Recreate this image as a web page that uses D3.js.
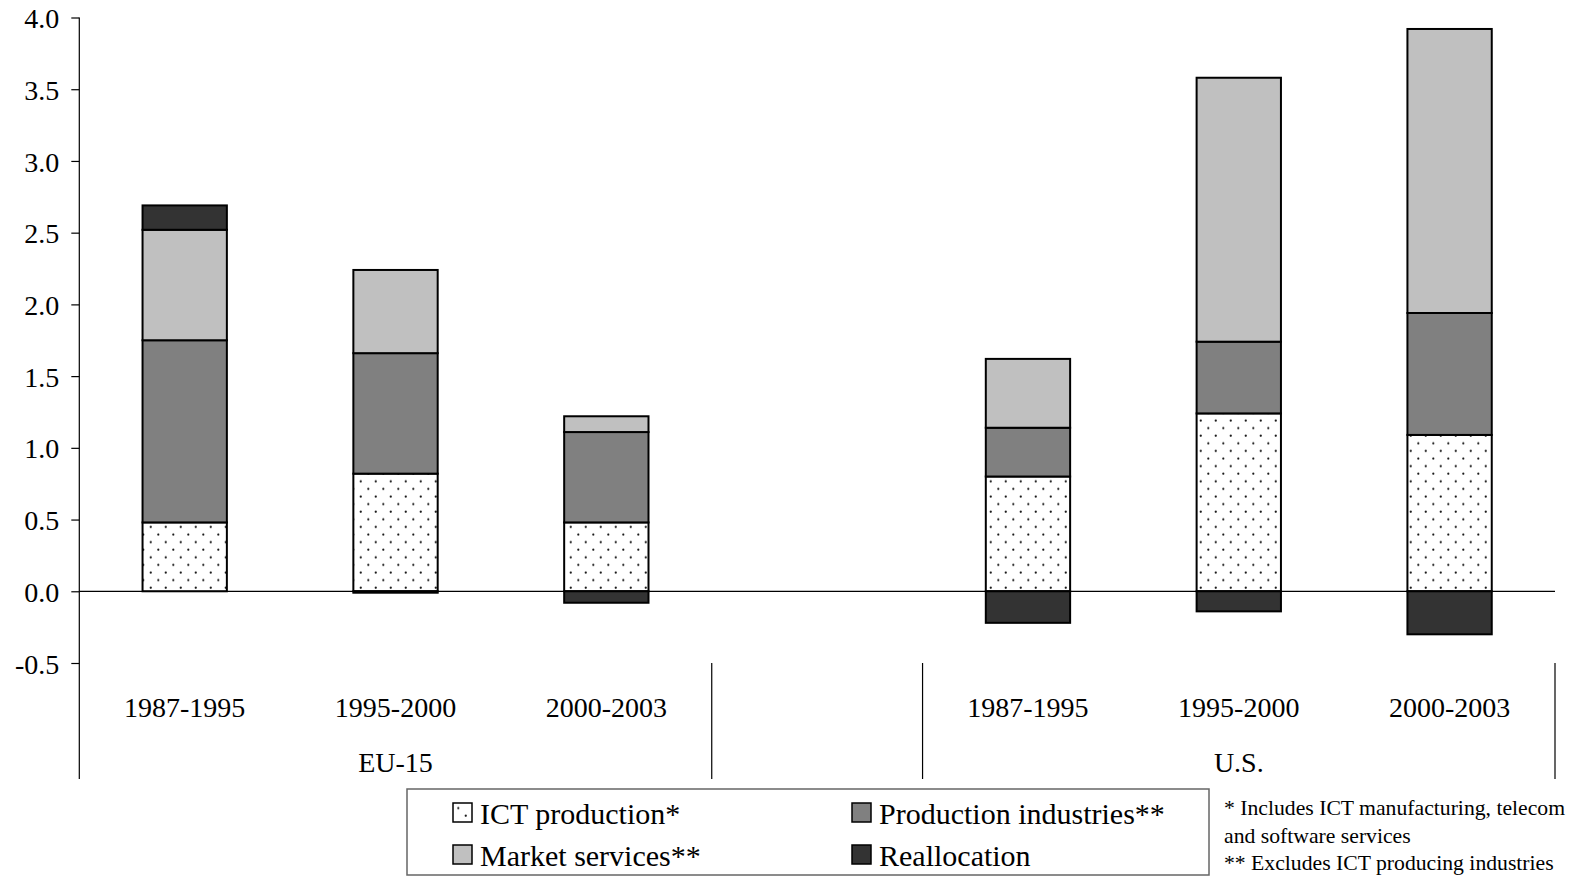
<!DOCTYPE html>
<html><head><meta charset="utf-8">
<script src="https://cdn.jsdelivr.net/npm/d3@7"></script>
<style>
body{margin:0;background:#fff}
svg{display:block}
text{font-family:"Liberation Serif","Times New Roman",serif;fill:#000}
</style>
</head><body><svg id="c" width="1576" height="877"></svg>
<script>
// ---- data ----
const groups = ["EU-15", "U.S."];
const periods = ["1987-1995", "1995-2000", "2000-2003"];
const seriesKeys = ["ict", "prod", "market", "realloc"];
const seriesNames = ["ICT production*", "Production industries**", "Market services**", "Reallocation"];
const ictProduction        = [0.48, 0.82, 0.48, 0.80, 1.24, 1.09];
const productionIndustries = [1.27, 0.84, 0.63, 0.34, 0.50, 0.85];
const marketServices       = [0.77, 0.58, 0.11, 0.48, 1.84, 1.98];
const reallocation         = [0.17, -0.01, -0.08, -0.22, -0.14, -0.30];
const yTicks = [-0.5, 0.0, 0.5, 1.0, 1.5, 2.0, 2.5, 3.0, 3.5, 4.0];
const yTickLabels = ["-0.5", "0.0", "0.5", "1.0", "1.5", "2.0", "2.5", "3.0", "3.5", "4.0"];
const footnotes = ["* Includes ICT manufacturing, telecom", "and software services", "** Excludes ICT producing industries"];

// ---- build rows ----
const slots = [];
groups.forEach((g, gi) => {
  periods.forEach(p => slots.push(g + "|" + p));
  if (gi === 0) slots.push("gap");
});
const rows = [];
groups.forEach((g, gi) => periods.forEach((p, pi) => {
  const i = gi * 3 + pi;
  rows.push({slot: g + "|" + p, period: p, ict: ictProduction[i], prod: productionIndustries[i],
             market: marketServices[i], realloc: reallocation[i]});
}));

const colors = {ict: "url(#dots)", prod: "#808080", market: "#c0c0c0", realloc: "#333333"};

const svg = d3.select("#c");
const defs = svg.append("defs");
const pat = defs.append("pattern").attr("id", "dots").attr("patternUnits", "userSpaceOnUse")
  .attr("width", 15).attr("height", 15.2);
pat.append("rect").attr("width", 15).attr("height", 15.2).attr("fill", "#fff");
pat.append("circle").attr("cx", 8.3).attr("cy", 2.5).attr("r", 1.1).attr("fill", "#111");
pat.append("circle").attr("cx", 0.8).attr("cy", 10.1).attr("r", 1.1).attr("fill", "#111");
pat.append("circle").attr("cx", 15.8).attr("cy", 10.1).attr("r", 1.1).attr("fill", "#111");

const x0 = 79.3, x1 = 1555, yBottom = 779;
const x = d3.scaleBand().domain(slots).range([x0, x1]).paddingInner(0.6).paddingOuter(0.3);
const y = d3.scaleLinear().domain([-0.5, 4.0]).range([663, 17.5]);
const step = x.step();

// y axis
const yAxis = d3.axisLeft(y).tickValues(yTicks).tickFormat((d, i) => yTickLabels[i]).tickSize(8).tickSizeOuter(0).tickPadding(12);
const ga = svg.append("g").attr("transform", `translate(${x0},0)`).call(yAxis);
ga.select(".domain").remove();
ga.selectAll(".tick line").attr("stroke", "#000").attr("stroke-width", 1.2);
ga.selectAll(".tick text").attr("font-size", 28).attr("dy", "0.36em")
  .style("font-family", '"Liberation Serif","Times New Roman",serif').attr("fill", "#000");

// axis line & dividers
svg.append("line").attr("x1", x0).attr("x2", x0).attr("y1", y(4.0)).attr("y2", yBottom)
  .attr("stroke", "#000").attr("stroke-width", 1.2);
[3, 4, 7].forEach(k => {
  svg.append("line").attr("x1", x0 + k * step).attr("x2", x0 + k * step)
    .attr("y1", y(-0.5)).attr("y2", yBottom).attr("stroke", "#000").attr("stroke-width", 1.2);
});

// stacked bars
const stack = d3.stack().keys(seriesKeys).offset(d3.stackOffsetDiverging);
const stacked = stack(rows);
svg.append("g").selectAll("g").data(stacked).join("g")
  .attr("fill", d => colors[d.key])
  .selectAll("rect").data(d => d.filter(s => Math.abs(s[1] - s[0]) > 1e-9)).join("rect")
  .attr("x", d => x(d.data.slot))
  .attr("width", x.bandwidth())
  .attr("y", d => y(Math.max(d[0], d[1])))
  .attr("height", d => Math.abs(y(d[0]) - y(d[1])))
  .attr("stroke", "#000").attr("stroke-width", 2);

// zero line
svg.append("line").attr("x1", x0).attr("x2", x1).attr("y1", y(0)).attr("y2", y(0))
  .attr("stroke", "#000").attr("stroke-width", 1.2);

// category labels
svg.append("g").selectAll("text").data(rows).join("text")
  .attr("x", d => x(d.slot) + x.bandwidth() / 2).attr("y", 717)
  .attr("text-anchor", "middle").attr("font-size", 28).text(d => d.period);

// group labels
groups.forEach((g, gi) => {
  const first = x(g + "|" + periods[0]), last = x(g + "|" + periods[2]);
  svg.append("text").attr("x", (first + last + x.bandwidth()) / 2).attr("y", 772)
    .attr("text-anchor", "middle").attr("font-size", 28).text(g);
});

// legend
svg.append("rect").attr("x", 407).attr("y", 789).attr("width", 802).attr("height", 86)
  .attr("fill", "none").attr("stroke", "#666").attr("stroke-width", 1.5);
const legPos = [[453, 803], [852, 803], [453, 845], [852, 845]];
legPos.forEach(([lx, ly], si) => {
  svg.append("rect").attr("x", lx).attr("y", ly).attr("width", 19).attr("height", 19)
    .attr("fill", colors[seriesKeys[si]]).attr("stroke", "#000").attr("stroke-width", 1.5);
  svg.append("text").attr("x", lx + 27).attr("y", ly + 21).attr("font-size", 30).text(seriesNames[si]);
});

// footnotes
svg.append("g").selectAll("text").data(footnotes).join("text")
  .attr("x", 1224).attr("y", (d, i) => 815 + i * 27.5).attr("font-size", 21.7).text(d => d);
</script>
</body></html>
